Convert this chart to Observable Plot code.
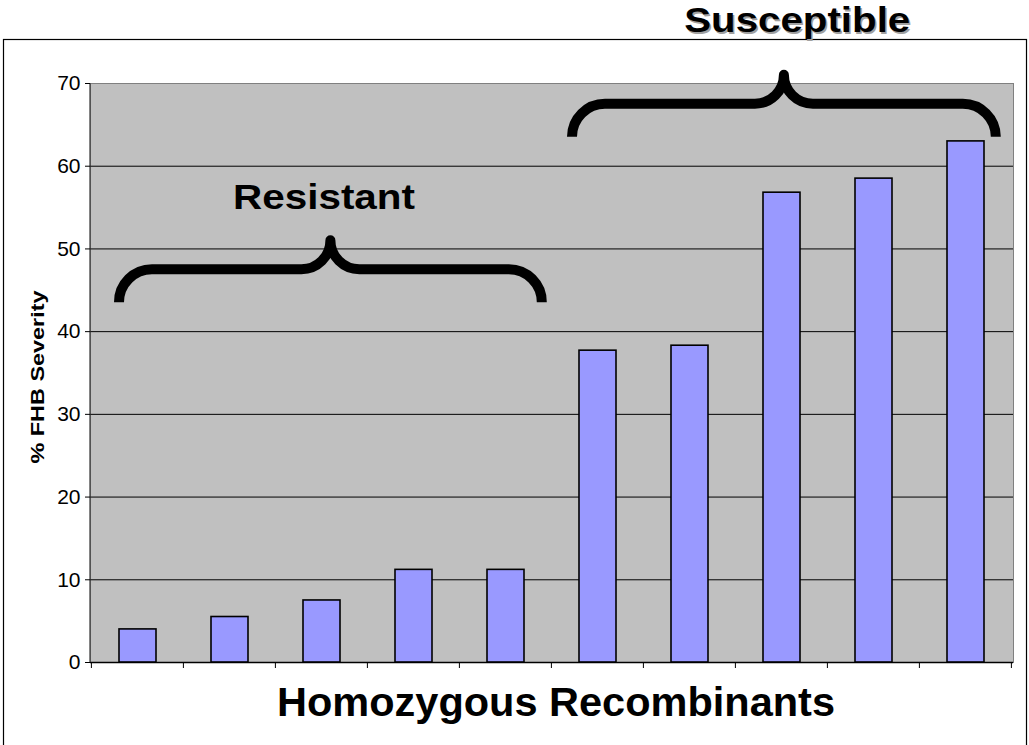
<!DOCTYPE html>
<html>
<head>
<meta charset="utf-8">
<script src="https://cdn.jsdelivr.net/npm/d3@7"></script>
<script src="https://cdn.jsdelivr.net/npm/@observablehq/plot@0.6"></script>
<style>
  body { margin: 0; background: #fff; }
  svg { display: block; }
</style>
</head>
<body>
<div id="chart"></div>
<script>
// ---- data ----
const recombinants = ["R1", "R2", "R3", "R4", "R5", "R6", "R7", "R8", "R9", "R10"];
const severity = [4.0, 5.5, 7.5, 11.2, 11.2, 37.7, 38.3, 56.8, 58.5, 63.0];
const yTicks = [0, 10, 20, 30, 40, 50, 60, 70];
const gridValues = [10, 20, 30, 40, 50, 60];
const groupLabels = ["Resistant", "Susceptible"];
const groupFirst = [0, 5];
const groupLast = [4, 9];
const groupBraceBase = [43.5, 63.5];
const groupLabelY = [54.8, 76.2];
const groupLabelAt = ["R3", "R8"];

const table = recombinants.map((r, i) => ({r, v: severity[i]}));

const W = 1029, H = 745;
const mL = 90, mT = 83, mR = 16, mB = 83;

function annotations(index, scales, values, dims) {
  const {x, y} = scales;
  const step = x(recombinants[1]) - x(recombinants[0]);
  const bw = step * 0.4;
  const cellStart = i => x(recombinants[0]) - step * 0.3 + i * step;
  const g = d3.create("svg:g");
  const base = y(0);
  // left axis line
  g.append("line").attr("x1", dims.marginLeft).attr("x2", dims.marginLeft)
    .attr("y1", y(70)).attr("y2", base).attr("stroke", "#333").attr("stroke-width", 1.2);
  // category boundary ticks
  for (let i = 0; i <= recombinants.length; i++) {
    const px = cellStart(i);
    g.append("line").attr("x1", px).attr("x2", px)
      .attr("y1", base).attr("y2", base + 6).attr("stroke", "#000");
  }
  // braces
  const leftOff = [0, -7], rightOff = [18, 12];
  groupLabels.forEach((lab, k) => {
    const x0 = x(recombinants[groupFirst[k]]) + leftOff[k];
    const x1 = x(recombinants[groupLast[k]]) + bw + rightOff[k];
    const m = (x0 + x1) / 2;
    const yE = y(groupBraceBase[k]);
    const r1 = 33, r2 = 29;
    const yH = yE - r1, yT = yH - r2;
    const d = `M${x0},${yE} A${r1},${r1} 0 0 1 ${x0 + r1},${yH} L${m - r2},${yH} ` +
      `A${r2},${r2} 0 0 0 ${m},${yT} A${r2},${r2} 0 0 0 ${m + r2},${yH} ` +
      `L${x1 - r1},${yH} A${r1},${r1} 0 0 1 ${x1},${yE}`;
    g.append("path").attr("d", d).attr("fill", "none").attr("stroke", "#000")
      .attr("stroke-width", 10).attr("stroke-linejoin", "round").attr("stroke-linecap", "butt");
  });
  return g.node();
}

const labelText = (k, opts) => Plot.text([groupLabels[k]], {
  x: () => groupLabelAt[k], y: () => groupLabelY[k], text: d => d,
  fontSize: 35.5, fontWeight: "bold", lineAnchor: "bottom", textAnchor: "middle", ...opts
});

const svg = Plot.plot({
  width: W,
  height: H,
  marginLeft: mL, marginTop: mT, marginRight: mR, marginBottom: mB,
  style: {fontFamily: "'Liberation Sans', Arial, sans-serif", background: "white", overflow: "visible", color: "#000"},
  x: {type: "band", domain: recombinants, paddingInner: 0.6, paddingOuter: 0.3, axis: null},
  y: {domain: [0, 70], axis: null},
  marks: [
    Plot.frame({fill: "#c0c0c0", stroke: "#808080"}),
    Plot.ruleY(gridValues, {stroke: "#000", strokeWidth: 1}),
    Plot.ruleY([0], {stroke: "#000", strokeWidth: 1.5}),
    Plot.barY(table, {x: "r", y: "v", fill: "#9999ff", stroke: "#000", strokeWidth: 1.6}),
    annotations,
    Plot.axisY({ticks: yTicks, tickSize: 5, tickPadding: 5, fontSize: 21, stroke: "#000", label: null}),
    labelText(0, {dx: 2, fill: "#000"}),
    labelText(1, {dx: 16.7, dy: 1.8, fill: "#a0a0a0"}),
    labelText(1, {dx: 15.2, fill: "#000"}),
    Plot.text(["Homozygous Recombinants"], {frameAnchor: "bottom", text: d => d, dx: 4, dy: 53,
      fontSize: 41.5, fontWeight: "bold", lineAnchor: "bottom", textAnchor: "middle"}),
    Plot.text(["% FHB Severity"], {frameAnchor: "left", text: d => d, rotate: -90, dx: -47, dy: 4,
      fontSize: 18, fontWeight: "bold", lineAnchor: "bottom", textAnchor: "middle"})
  ]
});

// stretched widths of labels (the reference's lettering is wider than tall)
const labelLen = {"Resistant": 182, "Susceptible": 226, "% FHB Severity": 173};
d3.select(svg).selectAll("text").each(function () {
  const t = this.textContent;
  if (labelLen[t] !== undefined) {
    this.setAttribute("textLength", labelLen[t]);
    this.setAttribute("lengthAdjust", "spacingAndGlyphs");
  }
});

// outer chart-area border
d3.select(svg).insert("rect", ":first-child")
  .attr("x", 3.5).attr("y", 39.5).attr("width", 1023).attr("height", 720)
  .attr("fill", "none").attr("stroke", "#000").attr("stroke-width", 1.2);

document.getElementById("chart").appendChild(svg);
</script>
</body>
</html>
